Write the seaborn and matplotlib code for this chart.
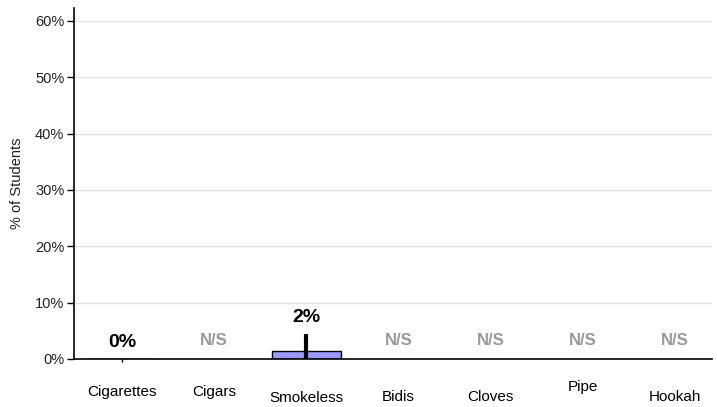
import numpy as np
import pandas as pd
import matplotlib
matplotlib.use("Agg")
import matplotlib.pyplot as plt
import matplotlib.transforms as mtrans
import seaborn as sns

categories = ["Cigarettes", "Cigars", "Smokeless\ntobacco", "Bidis", "Cloves", "Pipe", "Hookah"]
values = [0.0, np.nan, 1.5, np.nan, np.nan, np.nan, np.nan]
ci_low = [-0.5, np.nan, 0.0, np.nan, np.nan, np.nan, np.nan]
ci_high = [0.0, np.nan, 4.4, np.nan, np.nan, np.nan, np.nan]
value_labels = ["0%", "N/S", "2%", "N/S", "N/S", "N/S", "N/S"]
yticks = [0, 10, 20, 30, 40, 50, 60]
ytick_labels = ["0%", "10%", "20%", "30%", "40%", "50%", "60%"]
# vertical pixel offsets of x tick labels (as in reference)
label_dy = [5, 5, -9, 0, 0, 10, 0]

sns.set_theme(style="white")
plt.rcParams["font.family"] = ["Liberation Sans", "DejaVu Sans"]

df = pd.DataFrame({"cat": categories, "val": values})

fig = plt.figure(figsize=(7.17, 4.07), dpi=100)
ax = fig.add_axes([74 / 717, 48 / 407, (712 - 74) / 717, (399 - 48) / 407])

sns.barplot(data=df, x="cat", y="val", color="#9999ff", edgecolor="black",
            linewidth=1.0, width=0.75, saturation=1, ax=ax, errorbar=None)

for i in range(len(categories)):
    if not np.isnan(ci_high[i]):
        lw = 3 if ci_high[i] - ci_low[i] > 1 else 1
        ax.vlines(i, ci_low[i], ci_high[i], color="black", linewidth=lw,
                  clip_on=False, zorder=5)

for i, lab in enumerate(value_labels):
    if lab == "N/S":
        ax.annotate(lab, (i, 0), xytext=(0, 13.3), textcoords="offset points",
                    ha="center", va="center", fontsize=12, fontweight="bold",
                    color="#999999")
    else:
        top = max(values[i], ci_high[i])
        ax.annotate(lab, (i, top), xytext=(0, 12), textcoords="offset points",
                    ha="center", va="center", fontsize=14, fontweight="bold",
                    color="black")

ax.set_xlim(-0.52, 6.40)
ax.set_ylim(0, 62.3)
ax.set_yticks(yticks)
ax.set_yticklabels(ytick_labels, fontsize=10.5, color="#222222")
ax.set_xticks(range(len(categories)))
ax.set_xticklabels(categories, fontsize=11, color="black", va="center")
ax.tick_params(axis="x", length=0, pad=27.4)
ax.tick_params(axis="y", length=5, width=1, color="black", left=True, pad=2)
for lbl, dy in zip(ax.get_xticklabels(), label_dy):
    lbl.set_transform(lbl.get_transform() + mtrans.ScaledTranslation(0, dy / 100, fig.dpi_scale_trans))

ax.set_xlabel("")
ax.set_ylabel("% of Students", fontsize=10.5, color="#222222", labelpad=8)
ax.yaxis.grid(True, color="#e3e3e3", linewidth=1)
ax.set_axisbelow(True)
for s in ["top", "right"]:
    ax.spines[s].set_visible(False)
for s in ["left", "bottom"]:
    ax.spines[s].set_color("black")
    ax.spines[s].set_linewidth(1.2)

fig.savefig("out.png", dpi=100)
